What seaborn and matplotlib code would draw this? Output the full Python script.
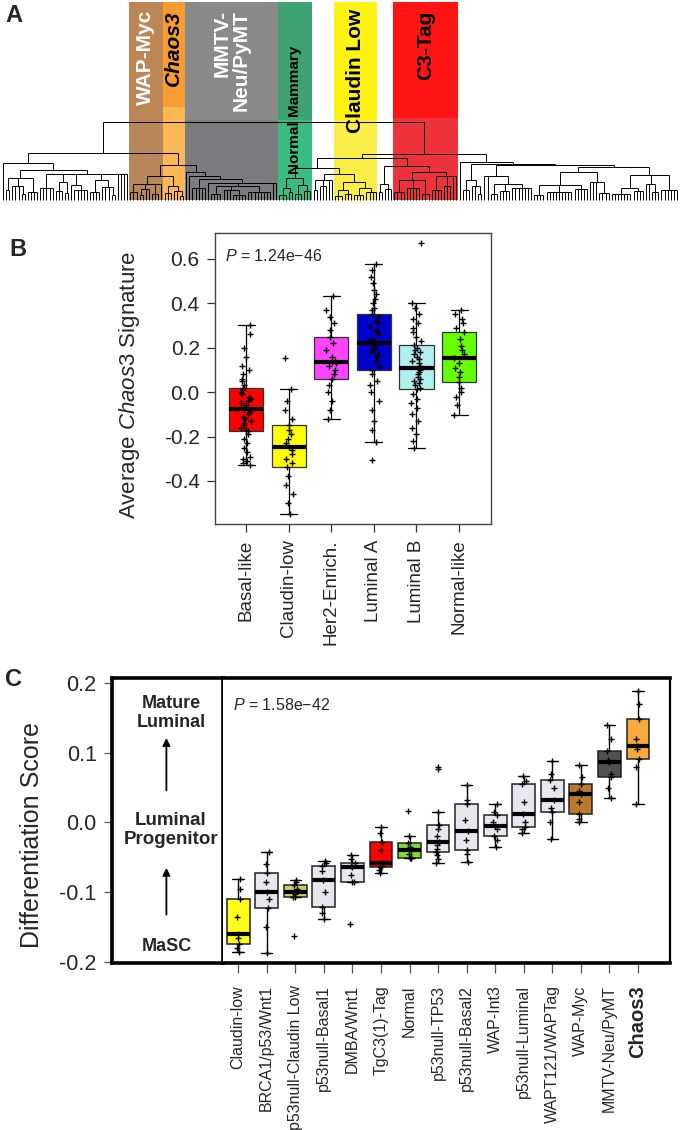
import numpy as np
import pandas as pd
import seaborn as sns
import matplotlib.pyplot as plt
from matplotlib.collections import LineCollection
from matplotlib.patches import Rectangle

sns.set_theme(style="white")
plt.rcParams["font.family"] = ["Liberation Sans", "DejaVu Sans"]
plt.rcParams["axes.unicode_minus"] = False
plt.rcParams["mathtext.fontset"] = "custom"
plt.rcParams["mathtext.it"] = "Liberation Sans:italic"
plt.rcParams["mathtext.rm"] = "Liberation Sans"

# ---------------- panel A: dendrogram (merge heights, leaf groups) ----------------
left_grp = [37, 1, [30, [22, [10, 2], [14, 3, [6, 2]], [8, 4]],
                   [26, [12, 5], [18, [9, 3], [7, 2]], [15, 1, [10, 5]],
                    [20, [8, 4], [13, 3, [5, 2]]], 4]]]
wap_myc = [16, [8, 3], [11, [5, 2], 2], [6, 3], 1]
chaos3 = [14, [7, 3], [9, 2, [4, 2]]]
mmtv = [28, 1, [24, 1, [21, [12, 5], [17, 1, [14, [6, 4], [10, 3, [5, 5]], [8, 8]], 2]]]]
normal = [22, [12, [5, 3], [8, 2]], [15, [6, 3], [9, 3]]]
gap1 = [20, [10, 2], [14, 3], 2]
claudin = [18, [10, [4, 3], [6, 3]], [12, [5, 4], [8, 4]]]
gap2 = [16, [8, 2], [11, 3]]
c3tag = [28, [20, [8, 4], [12, 5], [6, 3]], [24, [10, 4], [14, 3], 2]]
right_grp = [38, 1, [36, [20, [10, 3], [14, 2, [6, 2]]],
                     [35, [24, 2, [16, [6, 3], [9, 4], [12, 7]]],
                      [33, [28, [15, [5, 4], [8, 9], [11, 5]], [18, 3, [7, 4]]],
                       [25, [12, [6, 7], [9, 4]], [16, 2, [8, 3]], [10, 6]]]]]]
tree = [78,
        [47, left_grp, [35, [24, wap_myc, chaos3], mmtv]],
        [46, [42, [32, normal, [26, gap1, claudin]], [34, gap2, c3tag]], right_grp]]

band_labels = ["WAP-Myc", "Chaos3", "MMTV-\nNeu/PyMT", "Normal Mammary", "Claudin Low", "C3-Tag"]
band_first = [41, 52, 59, 89, 107, 126]
band_last = [51, 58, 88, 99, 120, 146]
band_top = ["#b87c46", "#f7941d", "#808080", "#2e9a66", "#fff200", "#ff0000"]
band_low = ["#b07a48", "#fbb040", "#6d6e71", "#22b573", "#f9ed32", "#ed1c24"]
band_break = [80, 93, 80, 80, 80, 82]
band_text = ["white", "black", "white", "black", "black", "black"]
band_size = [15, 15, 15, 11, 15, 15]
band_text_h = [190, 190, 190, 154, 191, 189]

# ---------------- panel B ----------------
b_names = ["Basal-like", "Claudin-low", "Her2-Enrich.", "Luminal A", "Luminal B", "Normal-like"]
b_colors = ["#ff0000", "#ffff00", "#ff44ff", "#0000cd", "#b0f0f0", "#66ff00"]
basal = [-0.329, -0.32, -0.31, -0.30, -0.29, -0.27, -0.25, -0.23, -0.21, -0.19, -0.176,
         -0.17, -0.16, -0.15, -0.14, -0.13, -0.12, -0.11, -0.10, -0.09, -0.078,
         -0.07, -0.06, -0.05, -0.04, -0.03, -0.02, -0.01, 0.0, 0.01, 0.020,
         0.03, 0.05, 0.06, 0.08, 0.10, 0.12, 0.16, 0.20, 0.26, 0.302]
claudin_low = [-0.550, -0.50, -0.46, -0.42, -0.38, -0.337, -0.32, -0.30, -0.28, -0.26, -0.247,
               -0.23, -0.21, -0.19, -0.17, -0.146, -0.12, -0.08, -0.04, 0.012, 0.152]
her2 = [-0.123, -0.08, -0.04, 0.0, 0.03, 0.060, 0.08, 0.10, 0.12, 0.13, 0.134,
        0.14, 0.16, 0.19, 0.22, 0.250, 0.28, 0.31, 0.34, 0.37, 0.433]
lum_a = [-0.307, -0.226, -0.17, -0.13, -0.08, -0.04, 0.0, 0.03, 0.05, 0.08, 0.099,
         0.12, 0.14, 0.16, 0.17, 0.18, 0.19, 0.20, 0.21, 0.215, 0.223,
         0.23, 0.24, 0.26, 0.27, 0.28, 0.30, 0.31, 0.32, 0.34, 0.352,
         0.37, 0.38, 0.40, 0.42, 0.44, 0.46, 0.49, 0.52, 0.55, 0.576]
lum_b = [-0.253, -0.22, -0.19, -0.16, -0.13, -0.10, -0.07, -0.05, -0.03, -0.01, 0.013,
         0.02, 0.03, 0.04, 0.05, 0.06, 0.07, 0.08, 0.09, 0.10, 0.108,
         0.12, 0.13, 0.14, 0.15, 0.16, 0.17, 0.18, 0.19, 0.20, 0.213,
         0.23, 0.25, 0.27, 0.29, 0.31, 0.33, 0.35, 0.38, 0.403, 0.671]
normal_like = [-0.104, -0.06, -0.02, 0.0, 0.02, 0.046, 0.07, 0.09, 0.11, 0.13, 0.154,
               0.17, 0.19, 0.21, 0.24, 0.270, 0.29, 0.31, 0.33, 0.35, 0.370]
b_values = [basal, claudin_low, her2, lum_a, lum_b, normal_like]
b_ticks = [0.6, 0.4, 0.2, 0.0, -0.2, -0.4]

# ---------------- panel C ----------------
c_names = ["Claudin-low", "BRCA1/p53/Wnt1", "p53null-Claudin Low", "p53null-Basal1", "DMBA/Wnt1",
           "TgC3(1)-Tag", "Normal", "p53null-TP53", "p53null-Basal2", "WAP-Int3",
           "p53null-Luminal", "WAPT121/WAPTag", "WAP-Myc", "MMTV-Neu/PyMT", "Chaos3"]
c_colors = ["#ffff1a", "#e8e6ee", "#cdcc5c", "#e8e6ee", "#e8e6ee", "#ff0000", "#7ddb3a",
            "#e8e6ee", "#e8e6ee", "#e8e6ee", "#e8e6ee", "#e8e6ee", "#b97a30", "#505050", "#f9aa3c"]
c_values = [
    [-0.186, -0.18, -0.174, -0.165, -0.160, -0.135, -0.109, -0.095, -0.081],
    [-0.187, -0.15, -0.123, -0.11, -0.099, -0.085, -0.072, -0.06, -0.043],
    [-0.162, -0.107, -0.107, -0.103, -0.099, -0.095, -0.090, -0.086, -0.083],
    [-0.138, -0.13, -0.121, -0.10, -0.082, -0.07, -0.063, -0.058, -0.055],
    [-0.146, -0.085, -0.085, -0.075, -0.064, -0.062, -0.058, -0.052, -0.047],
    [-0.073, -0.068, -0.064, -0.062, -0.058, -0.04, -0.028, -0.015, -0.006],
    [-0.051, -0.051, -0.051, -0.045, -0.040, -0.035, -0.029, -0.020, 0.017],
    [-0.058, -0.052, -0.047, -0.043, -0.038, -0.033, -0.028, -0.02, -0.01, -0.003, 0.015, 0.077, 0.079],
    [-0.056, -0.045, -0.039, -0.025, -0.012, 0.003, 0.026, 0.032, 0.054],
    [-0.035, -0.025, -0.020, -0.01, -0.005, 0.0, 0.011, 0.015, 0.027],
    [-0.015, -0.01, -0.006, 0.0, 0.012, 0.03, 0.055, 0.06, 0.067],
    [-0.024, 0.0, 0.015, 0.02, 0.032, 0.05, 0.061, 0.07, 0.088],
    [0.0, 0.005, 0.012, 0.03, 0.041, 0.045, 0.055, 0.065, 0.083],
    [0.035, 0.05, 0.065, 0.07, 0.087, 0.09, 0.103, 0.12, 0.139],
    [0.027, 0.08, 0.091, 0.105, 0.110, 0.12, 0.148, 0.17, 0.189],
]
c_ticks = [0.2, 0.1, 0.0, -0.1, -0.2]

W, H = 680, 1130
fig = plt.figure(figsize=(6.8, 11.3), dpi=100)


def rect(l, t, r, b):
    return [l / W, 1 - b / H, (r - l) / W, (b - t) / H]


def fig_xy(x, y):
    return x / W, 1 - y / H


# ---- A ----
axA = fig.add_axes(rect(0, 0, 680, 205))
axA.axis("off")
segs = []
leaf_pos = [0]


def layout(node):
    h = node[0]
    xs = []
    for ch in node[1:]:
        if isinstance(ch, int):
            for _ in range(ch):
                x = leaf_pos[0]
                leaf_pos[0] += 1
                segs.append([(x, 0), (x, h)])
                xs.append(x)
        else:
            cx, chh = layout(ch)
            segs.append([(cx, chh), (cx, h)])
            xs.append(cx)
    segs.append([(min(xs), h), (max(xs), h)])
    return (min(xs) + max(xs)) / 2, h


layout(tree)
n_leaves = leaf_pos[0]
step = 674 / (n_leaves - 1)
axA.set_xlim(-3 / step, (680 - 3) / step)
axA.set_ylim(-5, 200)

for i, lab in enumerate(band_labels):
    x0 = band_first[i] - 0.5
    wd = band_last[i] - band_first[i] + 1
    axA.add_patch(Rectangle((x0, 0), wd, band_break[i], color=band_low[i], alpha=0.9, lw=0, zorder=1))
    axA.add_patch(Rectangle((x0, band_break[i]), wd, 198 - band_break[i], color=band_top[i],
                            alpha=0.92, lw=0, zorder=1))
    style = "italic" if lab == "Chaos3" else "normal"
    axA.text(x0 + wd / 2, band_text_h[i], lab, rotation=90, ha="center", va="top",
             multialignment="right", color=band_text[i], fontsize=band_size[i],
             fontweight="bold", fontstyle=style, zorder=4, linespacing=1.0)

axA.add_collection(LineCollection(segs, colors="black", linewidths=0.7, zorder=3))
fig.text(*fig_xy(14, 16), "A", fontsize=17, fontweight="bold", ha="center", va="center")

# ---- B ----
axB = fig.add_axes(rect(215, 233, 491, 524))
dfB = pd.DataFrame({"subtype": np.repeat(b_names, [len(v) for v in b_values]),
                    "score": np.concatenate(b_values)})
sns.boxplot(data=dfB, x="subtype", y="score", hue="subtype", order=b_names, hue_order=b_names,
            palette=b_colors, saturation=1, legend=False, width=0.8, whis=1.5, fliersize=0,
            linewidth=0.9, linecolor="#333333", ax=axB,
            medianprops=dict(color="black", linewidth=3),
            whiskerprops=dict(color="black", linewidth=0.9),
            capprops=dict(color="black", linewidth=0.9))
sns.stripplot(data=dfB, x="subtype", y="score", order=b_names, color="black", marker="+",
              size=5, linewidth=1, jitter=0.12, ax=axB, zorder=5)
axB.set_xlim(-0.73, 5.75)
axB.set_ylim(-0.594, 0.717)
axB.set_xlabel("")
axB.set_ylabel("")
axB.set_yticks(b_ticks)
axB.set_yticklabels([f"{t:.1f}" for t in b_ticks], fontsize=15)
axB.set_xticks(range(len(b_names)))
axB.set_xticklabels(b_names, rotation=90, fontsize=13.5)
axB.tick_params(axis="both", which="both", bottom=True, left=True, length=6, width=0.9,
                color="#333333", pad=5)
for sp in axB.spines.values():
    sp.set_color("#444444")
    sp.set_linewidth(1.0)
axB.text(0.035, 0.92, "$P$ = 1.24e−46", transform=axB.transAxes, fontsize=11.5, va="center")
fig.text(*fig_xy(130, 385), r"Average $\it{Chaos3}$ Signature", rotation=90, fontsize=16,
         ha="center", va="center")
fig.text(*fig_xy(18, 250), "B", fontsize=17, fontweight="bold", ha="center", va="center")

# ---- C ----
ylo, yhi = -0.2014, 0.207
axCL = fig.add_axes(rect(112, 678, 223, 963))
axCL.set_ylim(ylo, yhi)
axCL.set_xlim(0, 1)
axCL.set_xticks([])
axCL.set_yticks(c_ticks)
axCL.set_yticklabels([f"{t:.1f}" for t in c_ticks], fontsize=15.5)
axCL.tick_params(axis="y", left=True, length=6, width=0.9, color="#555555", pad=5)
for sp in axCL.spines.values():
    sp.set_color("black")
    sp.set_linewidth(2.6)
axCL.text(0.53, 0.157, "Mature\nLuminal", ha="center", va="center", fontsize=13,
          fontweight="bold", linespacing=1.1)
axCL.text(0.53, -0.011, "Luminal\nProgenitor", ha="center", va="center", fontsize=13.5,
          fontweight="bold", linespacing=1.1)
axCL.text(0.49, -0.178, "MaSC", ha="center", va="center", fontsize=13, fontweight="bold")
arrow = dict(arrowstyle="-|>", color="black", lw=1.3, mutation_scale=11)
axCL.annotate("", xy=(0.49, 0.125), xytext=(0.49, 0.042), arrowprops=arrow)
axCL.annotate("", xy=(0.49, -0.061), xytext=(0.49, -0.136), arrowprops=arrow)

axC = fig.add_axes(rect(223, 678, 670, 963))
dfC = pd.DataFrame({"model": np.repeat(c_names, [len(v) for v in c_values]),
                    "score": np.concatenate(c_values)})
sns.boxplot(data=dfC, x="model", y="score", hue="model", order=c_names, hue_order=c_names,
            palette=c_colors, saturation=1, legend=False, width=0.8, whis=1.5, fliersize=0,
            linewidth=1.1, linecolor="#222222", ax=axC,
            medianprops=dict(color="black", linewidth=3),
            whiskerprops=dict(color="black", linewidth=1),
            capprops=dict(color="black", linewidth=1))
sns.stripplot(data=dfC, x="model", y="score", order=c_names, color="black", marker="+",
              size=4, linewidth=1, jitter=0.08, ax=axC, zorder=5)
axC.set_xlim(-0.53, 15.12)
axC.set_ylim(ylo, yhi)
axC.set_xlabel("")
axC.set_ylabel("")
axC.set_yticks([])
axC.set_xticks(range(len(c_names)))
axC.set_xticklabels(c_names, rotation=90, fontsize=11.5)
lbls = axC.get_xticklabels()
lbls[-1].set_fontweight("bold")
lbls[-1].set_fontsize(14.5)
axC.tick_params(axis="x", bottom=True, length=7, width=0.9, color="#555555", pad=9)
for name, sp in axC.spines.items():
    sp.set_color("black")
    sp.set_linewidth(2.6)
axC.spines["left"].set_visible(False)
axC.spines["right"].set_linewidth(1.6)
axC.text(0.022, 0.905, "$P$ = 1.58e−42", transform=axC.transAxes, fontsize=11.5, va="center")
fig.text(*fig_xy(32, 835), "Differentiation Score", rotation=90, fontsize=18,
         ha="center", va="center")
fig.text(*fig_xy(14, 680), "C", fontsize=17, fontweight="bold", ha="center", va="center")

fig.savefig("out.png", dpi=100)
